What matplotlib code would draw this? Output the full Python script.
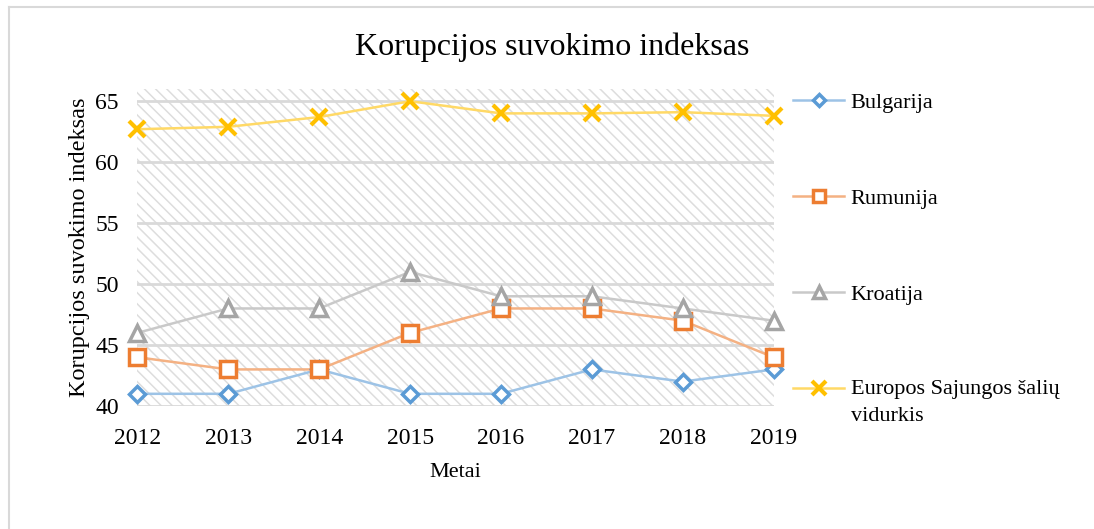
import matplotlib
matplotlib.use("Agg")
import matplotlib.pyplot as plt
from matplotlib.lines import Line2D
from matplotlib.patches import Rectangle
from matplotlib.legend_handler import HandlerLine2D

years = [2012, 2013, 2014, 2015, 2016, 2017, 2018, 2019]
bulgarija = [41, 41, 43, 41, 41, 43, 42, 43]
rumunija = [44, 43, 43, 46, 48, 48, 47, 44]
kroatija = [46, 48, 48, 51, 49, 49, 48, 47]
es_vidurkis = [62.7, 62.9, 63.7, 65, 64, 64, 64.1, 63.8]
labels = ["Bulgarija", "Rumunija", "Kroatija", "Europos Sajungos šalių\nvidurkis"]
yticks = [40, 45, 50, 55, 60, 65]

plt.rcParams['font.family'] = ['Liberation Serif', 'DejaVu Serif']
plt.rcParams['hatch.color'] = '#DDDDDD'
plt.rcParams['hatch.linewidth'] = 1.1


class RaisedHandler(HandlerLine2D):
    def create_artists(self, legend, orig_handle, xdescent, ydescent, width, height, fontsize, trans):
        return super().create_artists(legend, orig_handle, xdescent, ydescent - 21,
                                      width, height, fontsize, trans)


fig = plt.figure(figsize=(10.94, 5.29), dpi=100)
W, H = 1094, 529
L, R, T, B = 137, 774, 89, 406
ax = fig.add_axes([L / W, 1 - B / H, (R - L) / W, (B - T) / H])

# frame lines of the whole chart
fig.add_artist(Line2D([9 / W, 9 / W], [0, 1 - 7 / H], transform=fig.transFigure, color='#D9D9D9', lw=1.5))
fig.add_artist(Line2D([9 / W, 1], [1 - 7 / H, 1 - 7 / H], transform=fig.transFigure, color='#D9D9D9', lw=1.5))

x = list(range(len(years)))
ax.set_xlim(-0.005, len(years) - 1 + 0.005)
ax.set_ylim(40, 66)

ax.add_patch(Rectangle((0, 0), 1, 1, transform=ax.transAxes, facecolor='white',
                       hatch='\\\\\\', edgecolor='#DDDDDD', lw=0, zorder=0))
for yv in yticks:
    ax.axhline(yv, color='#D9D9D9', lw=2, zorder=1)

series = [
    (bulgarija, '#5B9BD5', '#9DC3E6', 'D', 8),
    (rumunija, '#ED7D31', '#F4B183', 's', 11),
    (kroatija, '#A5A5A5', '#C9C9C9', '^', 11),
    (es_vidurkis, '#FFC000', '#FFD966', 'x', 12),
]
handles = []
for vals, mc, lc, mk, ms in series:
    ax.plot(x, vals, color=lc, lw=1.8, zorder=2, clip_on=False)
    if mk == 'x':
        ax.plot(x, vals, ls='none', marker=mk, ms=ms, mew=3, color=mc, zorder=3, clip_on=False)
    else:
        ax.plot(x, vals, ls='none', marker=mk, ms=ms, mew=2.5, mec=mc, mfc='white', zorder=3, clip_on=False)
    h = Line2D([], [], color=lc, lw=1.8, marker=mk, ms=ms * 0.8,
               mec=mc, mfc=('white' if mk != 'x' else mc), mew=(3 if mk == 'x' else 2.5))
    handles.append(h)

for s in ax.spines.values():
    s.set_visible(False)
ax.set_xticks(x)
ax.set_xticklabels([str(y) for y in years], fontsize=17)
ax.set_yticks(yticks)
ax.set_yticklabels([str(v) for v in yticks], fontsize=17)
ax.tick_params(axis='x', length=0, pad=16)
ax.tick_params(axis='y', length=0, pad=13)
ax.set_xlabel("Metai", fontsize=16, labelpad=10)
ax.set_ylabel("Korupcijos suvokimo indeksas", fontsize=17.5, labelpad=4)

fig.text(0.505, 1 - 47 / H, "Korupcijos suvokimo indeksas", ha='center', va='center', fontsize=23)

leg = fig.legend(handles, labels, loc='upper left', bbox_to_anchor=(793 / W, 1 - 92 / H),
                 frameon=False, fontsize=16, labelspacing=3.4, handlelength=2.3,
                 handletextpad=0.3, borderaxespad=0, borderpad=0,
                 handler_map={handles[3]: RaisedHandler()})
leg.get_texts()[3].set_linespacing(1.55)

fig.savefig("out.png", dpi=100)
